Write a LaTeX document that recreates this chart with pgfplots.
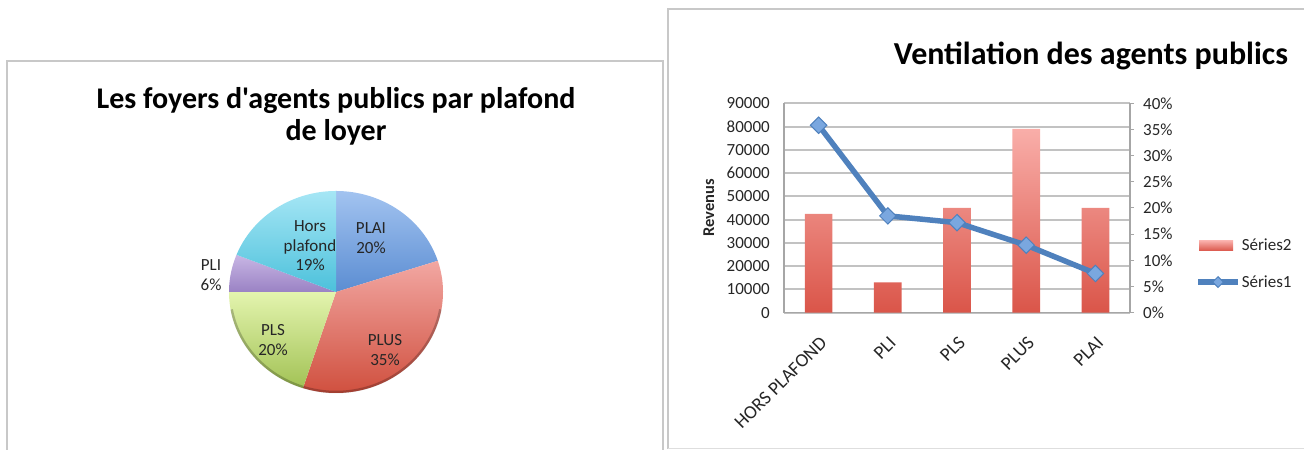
\documentclass[border=0pt]{standalone}
\usepackage{fontspec}
\setmainfont{Carlito}
\newfontfamily\plaincarlito{Carlito}
\usepackage{pgfplots}
\pgfplotsset{compat=1.18}

\definecolor{gridgray}{HTML}{C2C2C2}
\definecolor{axgray}{HTML}{A6A6A6}
\definecolor{framegray}{HTML}{C8C8C8}
\definecolor{barTop}{HTML}{F9AEA9}
\definecolor{barBot}{HTML}{DA5549}
\definecolor{lineBlue}{HTML}{4F81BD}
\definecolor{markBlue}{HTML}{7AA7DF}
\definecolor{txt}{HTML}{262626}
% pie colours
\definecolor{plaiT}{HTML}{A2C3F0}\definecolor{plaiB}{HTML}{5B8DD2}
\definecolor{plusT}{HTML}{F2A7A2}\definecolor{plusB}{HTML}{D0503F}
\definecolor{plsT}{HTML}{E3F4AE}\definecolor{plsB}{HTML}{A2C255}
\definecolor{pliT}{HTML}{C8B6E4}\definecolor{pliB}{HTML}{9A82C4}
\definecolor{horsT}{HTML}{A6E6F5}\definecolor{horsB}{HTML}{4CC1DB}

\pgfplotsset{
  mylineleg/.style={legend image code/.code={\draw[mark repeat=2, mark phase=2, ##1, mark size=3.8bp]
    plot coordinates {(0bp,0bp) (20bp,0bp) (40bp,0bp)};}},
  mybarleg/.style={legend image code/.code={\path[draw=none, top color=barTop, bottom color=barBot] (1bp,-5bp) rectangle (35bp,5bp);}},
}

% cumulative shares of the pie (percent): start, end
\newcommand{\pieslice}[4]{%
  \addplot[draw=none, top color=#3, bottom color=#4,
    domain={90-3.6*(#2)}:{90-3.6*(#1)}, samples=80, variable=\t]
    ({cos(\t)},{sin(\t)}) -- (axis cs:0,0) -- cycle;}

\begin{document}
\begin{tikzpicture}[x=1bp,y=1bp]
% panel frames
\draw[framegray, line width=2bp] (7,-5) -- (7,389) -- (663,389) -- (663,-5);
\draw[framegray, line width=2bp] (668,1) -- (668,441) -- (1310,441);
\draw[framegray!60, line width=1bp] (668,1) -- (1310,1);

% titles
\node[font=\plaincarlito\fontsize{30bp}{32bp}\selectfont\bfseries, align=center, text=black] at (336,334)
  {Les foyers d'agents publics par plafond\\de loyer};
\node[font=\fontsize{32bp}{36bp}\selectfont\bfseries, text=black] at (1091,394)
  {Ventilation des agents publics};

% ---------------- pie chart ----------------
\begin{axis}[at={(229bp,57bp)}, anchor=south west, width=214bp, height=202bp,
  scale only axis, xmin=-1, xmax=1, ymin=-1, ymax=1, hide axis, clip=false]
  % PLAI 20, PLUS 35, PLS 20, PLI 6, Hors plafond 19
  \pieslice{0}{20}{plaiT}{plaiB}
  \pieslice{20}{55}{plusT}{plusB}
  \pieslice{55}{75}{plsT}{plsB}
  \pieslice{75}{81}{pliT}{pliB}
  \pieslice{81}{100}{horsT}{horsB}
  % dark rim of the bevelled pie
  \addplot[draw=black, draw opacity=0.22, line width=2.5bp, domain=-170:-10, samples=60, variable=\t]
    ({0.99*cos(\t)},{0.99*sin(\t)});
  \begin{scope}[every node/.style={font=\fontsize{17bp}{19.5bp}\selectfont, align=center, text=txt}]
  \node at (axis cs:0.327,0.535) {PLAI\\20\%};
  \node at (axis cs:0.458,-0.574) {PLUS\\35\%};
  \node at (axis cs:-0.589,-0.475) {PLS\\20\%};
  \node at (axis cs:-1.168,0.168) {PLI\\6\%};
  \node at (axis cs:-0.243,0.455) {Hors\\plafond\\19\%};
  \end{scope}
\end{axis}

% ---------------- bar + line chart ----------------
\begin{axis}[at={(784bp,137.3bp)}, anchor=south west, width=346bp, height=209.4bp,
  scale only axis,
  xmin=-0.5, xmax=4.5, ymin=0, ymax=90000,
  ytick={0,10000,...,90000}, scaled y ticks=false,
  /pgf/number format/1000 sep={}, /pgf/number format/assume math mode=true,
  axis y line*=left, axis x line*=bottom,
  axis line style={-, axgray, line width=1.5bp},
  xtick={0,1,2,3,4},
  xticklabels={HORS PLAFOND, PLI, PLS, PLUS, PLAI},
  xtick style={draw=none}, ytick style={draw=none},
  ymajorgrids, grid style={gridgray, line width=2bp},
  ticklabel style={font=\fontsize{17bp}{20bp}\selectfont, text=txt},
  yticklabel style={inner sep=0pt, xshift=-14bp},
  xticklabel style={font=\fontsize{19bp}{22bp}\selectfont, xshift=5bp, yshift=-27bp,
    rotate=45, anchor=east, inner sep=0pt},
  ylabel={Revenus},
  ylabel style={at={(axis description cs:-0.217,0.5)}, anchor=center,
    font=\fontsize{16.5bp}{19bp}\selectfont\bfseries, text=txt},
]
\addplot[ybar, bar width=0.4, draw=none, top color=barTop, bottom color=barBot]
  coordinates {(0,42500) (1,13000) (2,45000) (3,79000) (4,45000)};
\end{axis}

\begin{axis}[at={(784bp,137.3bp)}, anchor=south west, width=346bp, height=209.4bp,
  scale only axis,
  xmin=-0.5, xmax=4.5, ymin=0, ymax=40,
  axis x line=none, axis y line*=right,
  axis line style={-, axgray, line width=1.5bp},
  ytick={0,5,...,40},
  /pgf/number format/assume math mode=true,
  yticklabel={\pgfmathprintnumber{\tick}\%},
  tick align=outside, major tick length=4bp,
  ytick style={axgray, line width=1bp},
  ticklabel style={font=\fontsize{17bp}{20bp}\selectfont, text=txt},
  yticklabel style={inner sep=0pt, xshift=9bp},
  clip=false,
  legend style={at={(1.188,0.2326)}, anchor=west, draw=none, fill=none,
    inner sep=0pt, row sep=21bp, font=\fontsize{17bp}{20bp}\selectfont,
    text=txt, nodes={inner sep=1bp}},
  legend cell align=left,
]
\addlegendimage{mybarleg}
\addlegendentry{Séries2}
\addplot[lineBlue, line width=5.5bp, mark=square*, mark size=5.8bp,
  mark options={rotate=45, fill=markBlue, draw=lineBlue, line width=1bp},
  mylineleg]
  coordinates {(0,35.8) (1,18.5) (2,17.2) (3,12.9) (4,7.5)};
\addlegendentry{Séries1}
\end{axis}
\pgfresetboundingbox
\useasboundingbox (0,0) rectangle (1304,450);
\end{tikzpicture}
\end{document}
